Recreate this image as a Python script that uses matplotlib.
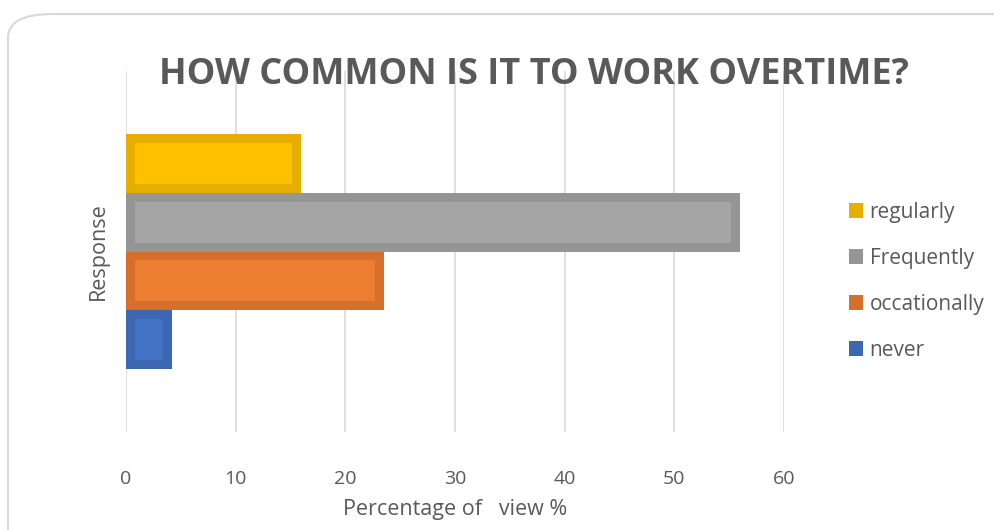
import matplotlib.pyplot as plt
from matplotlib.patches import FancyBboxPatch, Patch

categories = ['regularly', 'Frequently', 'occationally', 'never']
values = [16, 56, 23.5, 4.2]
inner_colors = ['#FFC000', '#A5A5A5', '#ED7D31', '#4472C4']
edge_colors = ['#E6AE00', '#959595', '#D66F2B', '#3E67B1']
offsets = [1.5, 0.5, -0.5, -1.5]
xticks = [0, 10, 20, 30, 40, 50, 60]

plt.rcParams['font.family'] = ['Open Sans', 'DejaVu Sans']
text_col = '#595959'

fig = plt.figure(figsize=(9.95, 5.3), dpi=100)

# rounded frame around the chart
frame = FancyBboxPatch((8 / 995, -0.05), 1.05, 1 - 14 / 530 + 0.05,
                       boxstyle='round,pad=0,rounding_size=0.045',
                       transform=fig.transFigure, facecolor='none',
                       edgecolor='#d9d9d9', lw=1.5, zorder=0)
fig.patches.append(frame)

ax = fig.add_axes([126 / 995, 1 - 432 / 530, (784 - 126) / 995, (432 - 71) / 530])
ax.set_facecolor('none')

for name, v, fc, ec, off in zip(categories, values, inner_colors, edge_colors, offsets):
    bars = ax.barh(off, v, height=1.0, color=fc, edgecolor=ec, linewidth=13, zorder=3)
    for b in bars:
        b.set_clip_path(b)

ax.set_xlim(0, 60)
ax.set_ylim(-3.07, 3.07)
ax.set_xticks(xticks)
ax.set_yticks([])
ax.grid(axis='x', color='#d9d9d9', lw=1.2, zorder=0)
for s in ax.spines.values():
    s.set_visible(False)
ax.tick_params(axis='x', length=0, pad=27, labelsize=14, labelcolor=text_col)

ax.set_xlabel('Percentage of   view %', fontsize=15.5, color=text_col, labelpad=8)
ax.set_ylabel('Response', fontsize=15.5, color=text_col, labelpad=12)

fig.text(534 / 995, 1 - 75 / 530, 'HOW COMMON IS IT TO WORK OVERTIME?',
         ha='center', va='center', fontsize=26, fontweight='bold', color=text_col)

handles = [Patch(facecolor=c, edgecolor='none') for c in edge_colors]
leg = fig.legend(handles, categories, loc='upper left', bbox_to_anchor=(830 / 995, 1 - 183 / 530),
                 frameon=False, fontsize=15, handlelength=0.7, handleheight=0.7,
                 handletextpad=0.3, labelspacing=1.2)
for t in leg.get_texts():
    t.set_color(text_col)

plt.savefig('out.png', dpi=100)
